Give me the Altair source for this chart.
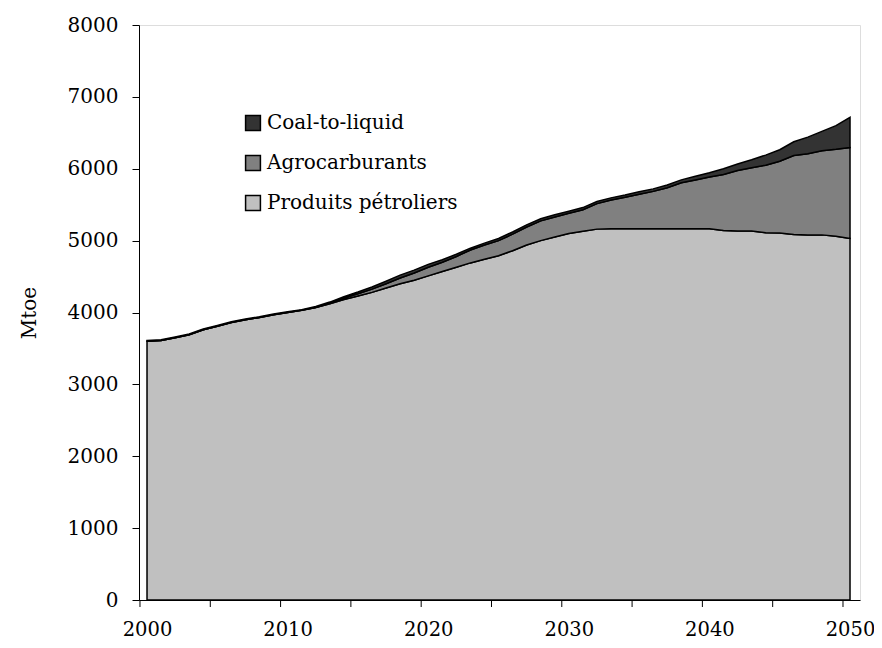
import altair as alt
import pandas as pd

years = list(range(2000, 2051))

petrole = [3600, 3610, 3650, 3690, 3760, 3810, 3860, 3900, 3930, 3970,
           4000, 4030, 4070, 4120, 4180, 4230, 4280, 4340, 4400, 4450,
           4510, 4570, 4630, 4690, 4740, 4790, 4860, 4940, 5000, 5050,
           5100, 5130, 5160, 5165, 5165, 5165, 5165, 5165, 5165, 5165,
           5165, 5140, 5135, 5135, 5110, 5105, 5085, 5080, 5080, 5060,
           5030]

agro = [0, 0, 0, 0, 0, 0, 0, 0, 0, 0,
        0, 0, 0, 10, 20, 30, 45, 60, 80, 100,
        120, 130, 150, 180, 200, 210, 230, 250, 275, 280,
        280, 300, 355, 400, 440, 480, 520, 570, 640, 680,
        720, 780, 840, 880, 940, 1000, 1100, 1130, 1170, 1210,
        1265]

ctl = [10, 10, 10, 10, 10, 10, 10, 10, 10, 10,
       10, 10, 15, 15, 20, 25, 30, 35, 40, 40,
       40, 35, 30, 25, 25, 30, 30, 30, 30, 30,
       30, 30, 30, 30, 30, 35, 35, 40, 40, 50,
       60, 80, 90, 110, 140, 160, 190, 230, 270, 330,
       420]

series = ["Coal-to-liquid", "Agrocarburants", "Produits pétroliers"]
colors = ["#333333", "#808080", "#C0C0C0"]

label_years = [2000, 2010, 2020, 2030, 2040, 2050]
tick_years = [1999.5, 2004.5, 2009.5, 2014.5, 2019.5, 2024.5,
              2029.5, 2034.5, 2039.5, 2044.5, 2049.5]

rows = []
for i, y in enumerate(years):
    rows.append({"year": y, "serie": "Produits pétroliers", "val": petrole[i], "ord": 0})
    rows.append({"year": y, "serie": "Agrocarburants", "val": agro[i], "ord": 1})
    rows.append({"year": y, "serie": "Coal-to-liquid", "val": ctl[i], "ord": 2})
df = pd.DataFrame(rows)

FONT = "DejaVu Serif"
W, H = 721, 575
xscale = alt.Scale(domain=[1999.43, 2050.71], nice=False, zero=False)
yscale = alt.Scale(domain=[0, 8000], nice=False)

area = alt.Chart(df).mark_area(stroke="black", strokeWidth=1.5, interpolate="linear").encode(
    x=alt.X("year:Q", scale=xscale,
            axis=alt.Axis(values=label_years, format="d", tickSize=0, labelPadding=20,
                          labelFontSize=19.5, labelFont=FONT, labelColor="black",
                          domainColor="black", domainWidth=1, grid=False, title=None)),
    y=alt.Y("val:Q", stack="zero", scale=yscale,
            axis=alt.Axis(values=list(range(0, 8001, 1000)), format="d", tickSize=7,
                          labelPadding=14,
                          labelFontSize=20, labelFont=FONT, labelColor="black",
                          tickColor="black", domainColor="black", domainWidth=1,
                          grid=False, title="Mtoe", titleFont=FONT, titleFontSize=20,
                          titleFontWeight="normal", titleColor="black", titlePadding=28)),
    color=alt.Color("serie:N", scale=alt.Scale(domain=series, range=colors),
                    legend=alt.Legend(orient="none", legendX=104, legendY=88, title=None,
                                      symbolType="square", symbolSize=220,
                                      symbolStrokeColor="black", symbolStrokeWidth=1.5,
                                      symbolOpacity=1, labelLimit=0,
                                      labelFont=FONT, labelFontSize=20, labelColor="black",
                                      rowPadding=18, padding=0, labelOffset=4)),
    order=alt.Order("ord:Q", sort="ascending"),
)

ticks_df = pd.DataFrame({"t": tick_years})
ticks = alt.Chart(ticks_df).mark_rule(color="black", strokeWidth=1).encode(
    x=alt.X("t:Q", scale=xscale),
    y=alt.value(H),
    y2=alt.value(H + 7),
)

chart = alt.layer(area, ticks).properties(
    width=W, height=H,
    autosize=alt.AutoSizeParams(type="none"),
    padding={"left": 131, "top": 17, "right": 14, "bottom": 40},
).configure_view(stroke=None).configure(background="white")

chart.save("out.html", embed_options={"renderer": "svg", "actions": False})
